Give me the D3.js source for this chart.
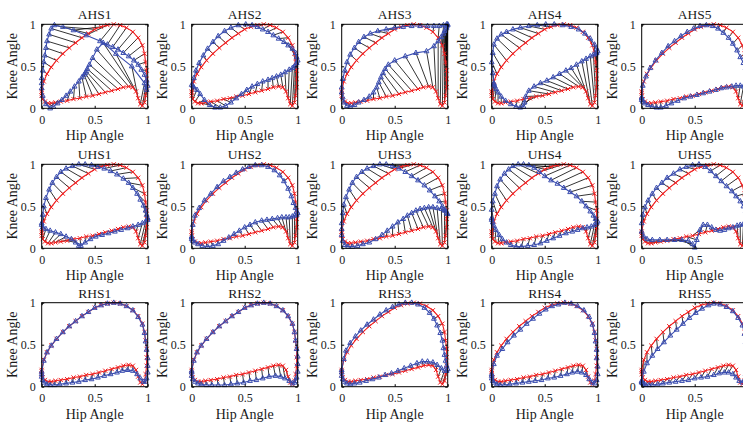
<!DOCTYPE html>
<html>
<head>
<meta charset="utf-8">
<script src="https://cdn.jsdelivr.net/npm/d3@7"></script>
<style>
  body { margin: 0; background: #fff; }
  text { font-family: "Liberation Serif", "Times New Roman", serif; fill: #1a1a1a; }
</style>
</head>
<body>
<div id="chart"></div>
<script>
// reference cyclogram (red), same for every panel
const reference = [[0.00,0.20],[0.02,0.32],[0.05,0.41],[0.09,0.49],[0.14,0.57],[0.20,0.65],[0.26,0.72],[0.32,0.78],[0.38,0.84],[0.44,0.89],
  [0.50,0.94],[0.56,0.97],[0.62,0.99],[0.68,1.00],[0.74,0.99],[0.80,0.96],[0.86,0.91],[0.91,0.84],[0.95,0.75],[0.97,0.65],
  [0.98,0.55],[0.99,0.45],[0.99,0.35],[0.99,0.25],[0.98,0.15],[0.97,0.07],[0.95,0.03],[0.93,0.05],[0.91,0.12],[0.89,0.20],
  [0.86,0.25],[0.82,0.26],[0.77,0.25],[0.72,0.23],[0.66,0.21],[0.60,0.19],[0.54,0.17],[0.48,0.15],[0.42,0.14],[0.36,0.12],
  [0.30,0.11],[0.24,0.09],[0.18,0.08],[0.13,0.07],[0.09,0.06],[0.06,0.06],[0.03,0.08],[0.01,0.11],[0.00,0.15],[0.00,0.18]];

// estimated cyclograms (blue), one per panel
const ahs1 = [[0.00,0.30],[0.00,0.36],[0.01,0.45],[0.02,0.55],[0.03,0.63],[0.04,0.72],[0.05,0.80],[0.07,0.88],[0.09,0.95],[0.12,0.99],
  [0.20,0.97],[0.30,0.93],[0.42,0.87],[0.55,0.80],[0.62,0.76],[0.67,0.73],[0.72,0.70],[0.77,0.66],[0.82,0.62],[0.87,0.57],
  [0.91,0.52],[0.94,0.46],[0.97,0.40],[0.99,0.33],[1.00,0.27],[0.99,0.22],[0.98,0.25],[0.97,0.30],[0.85,0.50],[0.70,0.65],
  [0.58,0.78],[0.52,0.70],[0.48,0.60],[0.45,0.52],[0.43,0.47],[0.42,0.44],[0.41,0.42],[0.40,0.40],[0.38,0.37],[0.35,0.32],
  [0.31,0.26],[0.27,0.20],[0.23,0.15],[0.19,0.10],[0.15,0.06],[0.11,0.02],[0.08,0.00],[0.04,0.05],[0.01,0.15],[0.00,0.24]];
const ahs2 = [[0.00,0.28],[0.02,0.36],[0.04,0.45],[0.07,0.54],[0.11,0.63],[0.15,0.71],[0.20,0.79],[0.25,0.86],[0.31,0.92],[0.37,0.96],
  [0.44,0.99],[0.51,1.00],[0.57,0.99],[0.62,0.97],[0.67,0.94],[0.72,0.91],[0.77,0.87],[0.82,0.83],[0.87,0.79],[0.91,0.75],
  [0.95,0.71],[0.98,0.66],[0.99,0.61],[1.00,0.57],[0.99,0.54],[0.98,0.52],[0.97,0.50],[0.95,0.48],[0.92,0.46],[0.88,0.43],
  [0.84,0.40],[0.80,0.38],[0.76,0.36],[0.72,0.34],[0.67,0.32],[0.62,0.29],[0.57,0.26],[0.52,0.22],[0.47,0.17],[0.42,0.12],
  [0.37,0.07],[0.32,0.03],[0.27,0.01],[0.22,0.01],[0.17,0.04],[0.12,0.10],[0.08,0.17],[0.05,0.22],[0.02,0.25],[0.01,0.27]];
const ahs3 = [[0.00,0.25],[0.01,0.35],[0.03,0.45],[0.05,0.55],[0.08,0.64],[0.12,0.72],[0.16,0.79],[0.21,0.85],[0.27,0.89],[0.34,0.92],
  [0.42,0.94],[0.50,0.96],[0.58,0.97],[0.66,0.98],[0.74,0.98],[0.81,0.98],[0.87,0.98],[0.92,0.98],[0.96,0.99],[0.99,1.00],
  [1.00,1.00],[1.00,0.99],[0.99,0.98],[0.99,0.96],[0.98,0.94],[0.97,0.92],[0.96,0.89],[0.94,0.85],[0.91,0.80],[0.87,0.74],
  [0.80,0.68],[0.70,0.66],[0.60,0.62],[0.50,0.57],[0.44,0.52],[0.41,0.47],[0.39,0.42],[0.37,0.37],[0.35,0.31],[0.33,0.25],
  [0.30,0.19],[0.26,0.14],[0.21,0.10],[0.16,0.07],[0.12,0.04],[0.08,0.02],[0.05,0.03],[0.02,0.07],[0.01,0.13],[0.00,0.19]];
const ahs4 = [[0.02,0.30],[0.01,0.42],[0.00,0.55],[0.01,0.66],[0.02,0.76],[0.05,0.83],[0.09,0.88],[0.14,0.91],[0.20,0.94],[0.27,0.96],
  [0.35,0.98],[0.43,0.99],[0.51,1.00],[0.59,1.00],[0.67,0.99],[0.75,0.97],[0.82,0.94],[0.88,0.89],[0.93,0.83],[0.97,0.76],
  [0.99,0.71],[1.00,0.68],[0.99,0.66],[0.98,0.65],[0.96,0.64],[0.93,0.62],[0.89,0.59],[0.85,0.56],[0.80,0.52],[0.75,0.48],
  [0.70,0.45],[0.64,0.41],[0.58,0.37],[0.52,0.33],[0.46,0.30],[0.40,0.26],[0.35,0.21],[0.32,0.14],[0.31,0.07],[0.30,0.02],
  [0.27,0.01],[0.23,0.02],[0.18,0.05],[0.13,0.09],[0.09,0.14],[0.06,0.19],[0.04,0.23],[0.03,0.26],[0.02,0.28],[0.02,0.29]];
const ahs5 = [[0.00,0.13],[0.01,0.27],[0.04,0.38],[0.08,0.48],[0.13,0.57],[0.19,0.66],[0.25,0.74],[0.31,0.80],[0.37,0.86],[0.43,0.91],
  [0.49,0.95],[0.55,0.98],[0.61,0.99],[0.67,0.98],[0.72,0.95],[0.77,0.90],[0.82,0.84],[0.86,0.77],[0.90,0.69],[0.93,0.61],
  [0.96,0.54],[0.98,0.48],[1.00,0.42],[1.00,0.37],[1.00,0.32],[1.00,0.28],[0.98,0.26],[0.96,0.26],[0.93,0.27],[0.89,0.27],
  [0.85,0.26],[0.80,0.25],[0.75,0.24],[0.70,0.22],[0.64,0.20],[0.58,0.18],[0.52,0.16],[0.46,0.14],[0.40,0.12],[0.34,0.09],
  [0.28,0.06],[0.23,0.03],[0.18,0.01],[0.14,0.01],[0.10,0.02],[0.06,0.04],[0.03,0.06],[0.01,0.08],[0.00,0.10],[0.00,0.12]];
const uhs1 = [[0.00,0.30],[0.01,0.40],[0.02,0.50],[0.04,0.60],[0.07,0.70],[0.10,0.78],[0.14,0.85],[0.18,0.91],[0.23,0.95],[0.29,0.98],
  [0.35,1.00],[0.41,1.00],[0.47,0.99],[0.53,0.97],[0.59,0.95],[0.65,0.92],[0.71,0.88],[0.77,0.83],[0.82,0.78],[0.86,0.72],
  [0.90,0.65],[0.93,0.58],[0.96,0.51],[0.98,0.45],[0.99,0.40],[1.00,0.36],[1.00,0.34],[0.98,0.32],[0.95,0.30],[0.91,0.28],
  [0.86,0.26],[0.81,0.24],[0.75,0.22],[0.69,0.20],[0.63,0.18],[0.57,0.16],[0.51,0.14],[0.46,0.11],[0.41,0.07],[0.37,0.03],
  [0.35,0.03],[0.32,0.07],[0.28,0.11],[0.23,0.14],[0.18,0.17],[0.13,0.19],[0.08,0.21],[0.04,0.23],[0.01,0.25],[0.00,0.28]];
const uhs2 = [[0.00,0.14],[0.01,0.28],[0.03,0.39],[0.07,0.48],[0.12,0.57],[0.18,0.65],[0.24,0.73],[0.30,0.80],[0.36,0.85],[0.42,0.90],
  [0.48,0.94],[0.54,0.97],[0.60,0.99],[0.66,0.99],[0.72,0.97],[0.78,0.93],[0.83,0.87],[0.87,0.80],[0.91,0.71],[0.94,0.62],
  [0.96,0.54],[0.98,0.48],[0.99,0.44],[1.00,0.42],[0.99,0.40],[0.97,0.39],[0.95,0.38],[0.92,0.37],[0.89,0.37],[0.85,0.37],
  [0.81,0.36],[0.76,0.35],[0.71,0.34],[0.66,0.33],[0.60,0.31],[0.55,0.28],[0.50,0.25],[0.45,0.21],[0.40,0.17],[0.35,0.13],
  [0.30,0.09],[0.25,0.05],[0.20,0.03],[0.15,0.02],[0.10,0.03],[0.06,0.05],[0.03,0.07],[0.01,0.09],[0.00,0.11],[0.00,0.13]];
const uhs3 = [[0.00,0.30],[0.01,0.42],[0.02,0.52],[0.04,0.61],[0.07,0.70],[0.10,0.78],[0.14,0.85],[0.19,0.91],[0.24,0.95],[0.30,0.98],
  [0.36,1.00],[0.42,1.00],[0.48,0.98],[0.54,0.95],[0.60,0.91],[0.66,0.86],[0.72,0.81],[0.78,0.75],[0.83,0.69],[0.88,0.62],
  [0.92,0.56],[0.95,0.50],[0.98,0.45],[1.00,0.41],[0.99,0.42],[0.97,0.45],[0.94,0.47],[0.90,0.48],[0.86,0.49],[0.82,0.49],
  [0.78,0.48],[0.74,0.47],[0.70,0.45],[0.66,0.42],[0.62,0.39],[0.58,0.35],[0.53,0.31],[0.48,0.26],[0.43,0.21],[0.38,0.16],
  [0.32,0.11],[0.26,0.07],[0.20,0.05],[0.15,0.03],[0.10,0.02],[0.06,0.02],[0.03,0.04],[0.01,0.09],[0.00,0.16],[0.00,0.23]];
const uhs4 = [[0.00,0.36],[0.00,0.46],[0.01,0.56],[0.03,0.65],[0.05,0.74],[0.08,0.82],[0.12,0.89],[0.16,0.94],[0.20,0.98],[0.25,1.00],
  [0.30,1.00],[0.35,0.99],[0.40,0.96],[0.45,0.91],[0.50,0.86],[0.56,0.81],[0.62,0.77],[0.68,0.72],[0.74,0.67],[0.80,0.62],
  [0.85,0.56],[0.89,0.50],[0.93,0.44],[0.96,0.39],[0.98,0.35],[1.00,0.32],[0.99,0.30],[0.97,0.28],[0.94,0.26],[0.90,0.25],
  [0.86,0.24],[0.81,0.22],[0.76,0.20],[0.70,0.18],[0.64,0.15],[0.58,0.12],[0.52,0.09],[0.46,0.06],[0.40,0.04],[0.34,0.03],
  [0.28,0.02],[0.23,0.02],[0.18,0.04],[0.14,0.07],[0.10,0.11],[0.07,0.16],[0.04,0.22],[0.02,0.27],[0.01,0.31],[0.00,0.34]];
const uhs5 = [[0.00,0.30],[0.01,0.40],[0.03,0.49],[0.06,0.57],[0.10,0.65],[0.14,0.72],[0.19,0.78],[0.24,0.84],[0.30,0.89],[0.36,0.94],
  [0.42,0.97],[0.48,0.99],[0.54,1.00],[0.60,0.97],[0.65,0.92],[0.70,0.86],[0.75,0.80],[0.80,0.74],[0.85,0.68],[0.89,0.62],
  [0.93,0.56],[0.96,0.50],[0.98,0.44],[0.99,0.38],[0.99,0.33],[0.98,0.30],[0.96,0.29],[0.93,0.28],[0.90,0.27],[0.86,0.25],
  [0.82,0.24],[0.78,0.22],[0.74,0.21],[0.70,0.22],[0.66,0.25],[0.62,0.28],[0.58,0.28],[0.55,0.22],[0.52,0.10],[0.50,0.01],
  [0.48,0.05],[0.44,0.09],[0.38,0.10],[0.31,0.10],[0.24,0.10],[0.17,0.10],[0.10,0.10],[0.05,0.11],[0.02,0.14],[0.00,0.20]];
const rhs1 = [[0.00,0.18],[0.02,0.31],[0.05,0.41],[0.09,0.49],[0.14,0.57],[0.20,0.65],[0.26,0.72],[0.32,0.78],[0.38,0.84],[0.44,0.89],
  [0.50,0.94],[0.56,0.97],[0.62,0.99],[0.68,1.00],[0.74,0.99],[0.80,0.96],[0.86,0.91],[0.91,0.83],[0.95,0.74],[0.97,0.64],
  [0.98,0.54],[0.99,0.44],[1.00,0.34],[1.00,0.25],[1.00,0.17],[0.99,0.10],[0.98,0.06],[0.96,0.06],[0.93,0.10],[0.90,0.15],
  [0.86,0.19],[0.81,0.20],[0.76,0.19],[0.71,0.17],[0.65,0.15],[0.59,0.13],[0.53,0.11],[0.47,0.09],[0.41,0.08],[0.35,0.06],
  [0.29,0.05],[0.23,0.04],[0.17,0.03],[0.12,0.02],[0.08,0.02],[0.05,0.03],[0.02,0.05],[0.01,0.08],[0.00,0.12],[0.00,0.15]];
const rhs2 = [[0.00,0.19],[0.02,0.31],[0.05,0.41],[0.09,0.49],[0.14,0.57],[0.20,0.65],[0.26,0.72],[0.32,0.78],[0.38,0.84],[0.44,0.89],
  [0.50,0.94],[0.56,0.97],[0.62,0.99],[0.68,1.00],[0.74,0.99],[0.80,0.96],[0.86,0.91],[0.91,0.84],[0.95,0.75],[0.97,0.65],
  [0.98,0.55],[0.99,0.45],[1.00,0.36],[1.00,0.27],[1.00,0.18],[0.99,0.11],[0.98,0.07],[0.97,0.05],[0.95,0.04],[0.92,0.07],
  [0.88,0.10],[0.84,0.12],[0.79,0.13],[0.73,0.12],[0.67,0.10],[0.61,0.08],[0.55,0.07],[0.49,0.05],[0.43,0.04],[0.37,0.03],
  [0.31,0.02],[0.25,0.02],[0.19,0.02],[0.14,0.02],[0.09,0.03],[0.06,0.04],[0.03,0.06],[0.01,0.09],[0.00,0.13],[0.00,0.17]];
const rhs3 = [[0.00,0.20],[0.02,0.33],[0.04,0.43],[0.08,0.52],[0.13,0.60],[0.18,0.67],[0.24,0.74],[0.30,0.80],[0.36,0.86],[0.42,0.91],
  [0.48,0.95],[0.54,0.98],[0.60,1.00],[0.66,1.00],[0.72,0.98],[0.78,0.94],[0.83,0.88],[0.87,0.81],[0.90,0.73],[0.93,0.64],
  [0.95,0.55],[0.96,0.46],[0.97,0.38],[0.98,0.31],[0.99,0.25],[1.00,0.21],[0.99,0.19],[0.97,0.19],[0.94,0.22],[0.90,0.26],
  [0.86,0.29],[0.81,0.30],[0.76,0.30],[0.71,0.28],[0.65,0.25],[0.59,0.22],[0.53,0.19],[0.47,0.16],[0.41,0.14],[0.35,0.11],
  [0.29,0.09],[0.23,0.07],[0.17,0.05],[0.12,0.04],[0.08,0.03],[0.05,0.04],[0.02,0.06],[0.01,0.09],[0.00,0.13],[0.00,0.17]];
const rhs4 = [[0.00,0.15],[0.02,0.27],[0.05,0.37],[0.10,0.45],[0.15,0.53],[0.21,0.61],[0.27,0.68],[0.33,0.75],[0.39,0.81],[0.45,0.87],
  [0.51,0.92],[0.57,0.96],[0.63,0.98],[0.69,1.00],[0.75,0.99],[0.81,0.96],[0.87,0.91],[0.92,0.83],[0.95,0.74],[0.97,0.64],
  [0.98,0.54],[0.99,0.44],[0.99,0.34],[1.00,0.24],[1.00,0.15],[0.99,0.08],[0.97,0.04],[0.95,0.05],[0.92,0.09],[0.89,0.14],
  [0.85,0.17],[0.81,0.18],[0.76,0.17],[0.71,0.15],[0.65,0.13],[0.59,0.11],[0.53,0.10],[0.47,0.08],[0.41,0.07],[0.35,0.06],
  [0.29,0.05],[0.23,0.04],[0.17,0.03],[0.12,0.02],[0.08,0.02],[0.05,0.03],[0.02,0.05],[0.01,0.07],[0.00,0.10],[0.00,0.13]];
const rhs5 = [[0.00,0.07],[0.02,0.18],[0.05,0.28],[0.10,0.37],[0.15,0.45],[0.21,0.53],[0.27,0.61],[0.33,0.68],[0.39,0.75],[0.45,0.82],
  [0.51,0.88],[0.57,0.93],[0.63,0.97],[0.68,0.99],[0.74,0.98],[0.80,0.95],[0.86,0.90],[0.91,0.82],[0.95,0.73],[0.97,0.63],
  [0.98,0.53],[0.99,0.43],[0.99,0.33],[0.99,0.24],[0.98,0.15],[0.97,0.08],[0.95,0.05],[0.92,0.07],[0.89,0.11],[0.86,0.15],
  [0.82,0.17],[0.78,0.17],[0.73,0.16],[0.68,0.14],[0.62,0.12],[0.56,0.11],[0.50,0.10],[0.44,0.08],[0.38,0.07],[0.32,0.06],
  [0.26,0.05],[0.20,0.04],[0.15,0.03],[0.10,0.02],[0.07,0.02],[0.04,0.02],[0.02,0.03],[0.01,0.04],[0.00,0.05],[0.00,0.06]];

const titles = ["AHS1","AHS2","AHS3","AHS4","AHS5","UHS1","UHS2","UHS3","UHS4","UHS5","RHS1","RHS2","RHS3","RHS4","RHS5"];
const estimates = [ahs1, ahs2, ahs3, ahs4, ahs5, uhs1, uhs2, uhs3, uhs4, uhs5, rhs1, rhs2, rhs3, rhs4, rhs5];
const tickValues = [0, 0.5, 1];
const tickLabels = ["0", "0.5", "1"];

// mise en page
const width = 743, height = 422;
const plotW = 106, plotH = 84;
const colLeft = [41.7, 191.7, 341.7, 491.7, 641.7];
const rowTop = [24.3, 164.3, 302.7];
const red = "#f02020", blue = "#3a4db0";

const svg = d3.select("#chart").append("svg")
  .attr("width", width).attr("height", height);

const x = d3.scaleLinear().domain([0, 1]).range([0, plotW]);
const y = d3.scaleLinear().domain([0, 1]).range([plotH, 0]);
const line = d3.line().x(d => x(d[0])).y(d => y(d[1])).curve(d3.curveLinearClosed);

const crossPath = "M-2.1,-2.1L2.1,2.1M-2.1,2.1L2.1,-2.1";
const triPath = "M0,-2.8L2.4,1.6L-2.4,1.6Z";

titles.forEach((title, i) => {
  const col = i % 5, row = Math.floor(i / 5);
  const est = estimates[i];
  const left = colLeft[col];
  const g = svg.append("g").attr("transform", `translate(${left},${rowTop[row]})`);

  // lignes de correspondance
  g.append("g").selectAll("line").data(reference).join("line")
    .attr("x1", d => x(d[0])).attr("y1", d => y(d[1]))
    .attr("x2", (d, k) => x(est[k][0])).attr("y2", (d, k) => y(est[k][1]))
    .attr("stroke", "#000").attr("stroke-width", 0.8);

  // courbe de référence
  g.append("path").datum(reference).attr("d", line)
    .attr("fill", "none").attr("stroke", red).attr("stroke-width", 1.1);
  g.append("g").selectAll("path").data(reference).join("path")
    .attr("d", crossPath)
    .attr("transform", d => `translate(${x(d[0])},${y(d[1])})`)
    .attr("stroke", red).attr("stroke-width", 1).attr("fill", "none");

  // courbe estimée
  g.append("path").datum(est).attr("d", line)
    .attr("fill", "none").attr("stroke", blue).attr("stroke-width", 1.1);
  g.append("g").selectAll("path").data(est).join("path")
    .attr("d", triPath)
    .attr("transform", d => `translate(${x(d[0])},${y(d[1])})`)
    .attr("stroke", blue).attr("stroke-width", 1).attr("fill", "none");

  // cadre + graduations
  g.append("rect").attr("width", plotW).attr("height", plotH)
    .attr("fill", "none").attr("stroke", "#000").attr("stroke-width", 1);

  g.append("g").attr("transform", `translate(0,${plotH})`)
    .call(d3.axisBottom(x).tickValues(tickValues).tickFormat((d, k) => tickLabels[k]).tickSizeInner(-2.5).tickSizeOuter(0).tickPadding(7))
    .call(a => a.select(".domain").remove())
    .call(a => a.selectAll("text").style("font-size", "12px").style("font-family", "Liberation Serif").attr("fill", "#1a1a1a"))
    // le libellé qui tombe hors de la fenêtre n'est pas visible dans l'original
    .call(a => a.selectAll(".tick").filter(d => left + x(d) + 3 > width).select("text").remove());
  g.append("g")
    .call(d3.axisLeft(y).tickValues(tickValues).tickFormat((d, k) => tickLabels[k]).tickSizeInner(-2.5).tickSizeOuter(0).tickPadding(6))
    .call(a => a.select(".domain").remove())
    .call(a => a.selectAll("text").style("font-size", "12px").style("font-family", "Liberation Serif").attr("fill", "#1a1a1a"));
  g.append("g")
    .call(d3.axisTop(x).tickValues(tickValues).tickFormat("").tickSizeInner(-2.5).tickSizeOuter(0))
    .call(a => a.select(".domain").remove());
  g.append("g").attr("transform", `translate(${plotW},0)`)
    .call(d3.axisRight(y).tickValues(tickValues).tickFormat("").tickSizeInner(-2.5).tickSizeOuter(0))
    .call(a => a.select(".domain").remove());

  // titres et libellés
  g.append("text").attr("x", plotW / 2).attr("y", -5)
    .attr("text-anchor", "middle").style("font-size", "13.5px").text(title);
  g.append("text").attr("x", plotW / 2).attr("y", plotH + 32)
    .attr("text-anchor", "middle").style("font-size", "14px").text("Hip Angle");
  g.append("text").attr("transform", `translate(-25,${plotH / 2}) rotate(-90)`)
    .attr("text-anchor", "middle").style("font-size", "14px").text("Knee Angle");
});
</script>
</body>
</html>
